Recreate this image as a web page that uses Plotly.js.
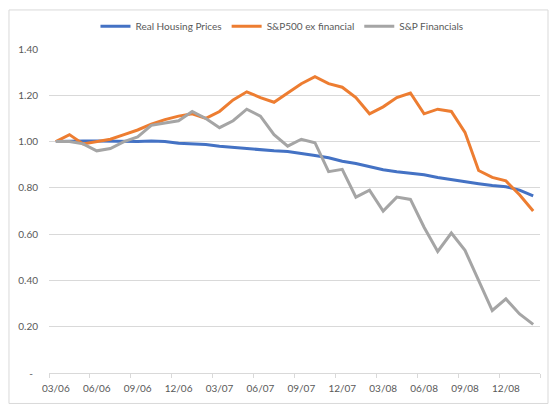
<!DOCTYPE html>
<html>
<head>
<meta charset="utf-8">
<script src="https://cdn.plot.ly/plotly-3.0.1.min.js"></script>
<style>html,body{margin:0;padding:0;background:#fff;}#chart{width:560px;height:410px;}</style>
</head>
<body>
<div id="chart"></div>
<script>
// Monthly observations, 03/06 .. 02/09
const months = ["03/06","04/06","05/06","06/06","07/06","08/06","09/06","10/06","11/06","12/06","01/07","02/07",
                "03/07","04/07","05/07","06/07","07/07","08/07","09/07","10/07","11/07","12/07","01/08","02/08",
                "03/08","04/08","05/08","06/08","07/08","08/08","09/08","10/08","11/08","12/08","01/09","02/09"];
const realHousing = [1.000,1.003,1.003,1.003,1.002,0.998,1.000,1.003,1.000,0.993,0.990,0.987,
                     0.980,0.975,0.967,0.963,0.960,0.957,0.950,0.940,0.930,0.915,0.905,0.893,
                     0.878,0.870,0.862,0.857,0.845,0.835,0.828,0.818,0.810,0.805,0.790,0.765];
const spExFin = [1.00,1.03,0.99,1.00,1.01,1.03,1.05,1.075,1.095,1.11,1.12,1.10,
                 1.13,1.18,1.215,1.19,1.17,1.21,1.25,1.28,1.25,1.235,1.19,1.12,
                 1.15,1.19,1.21,1.12,1.14,1.13,1.04,0.875,0.845,0.83,0.77,0.70];
const spFin = [1.00,1.00,0.99,0.96,0.97,1.00,1.02,1.07,1.08,1.09,1.13,1.10,
               1.06,1.09,1.14,1.11,1.03,0.98,1.01,0.995,0.87,0.88,0.76,0.79,
               0.70,0.76,0.75,0.63,0.525,0.605,0.53,0.40,0.27,0.32,0.255,0.21];
const yTickVals = [0,0.2,0.4,0.6,0.8,1.0,1.2,1.4];
const yTickText = ["-\u00a0\u00a0","0.20","0.40","0.60","0.80","1.00","1.20","1.40"];

const idx = months.map((m,i)=>i);
const labelIdx = idx.filter(i=>i%3===0);
const labelText = labelIdx.map(i=>months[i]);
const boundaryIdx = labelIdx.map(i=>i-0.5).concat([months.length-0.5]);

const font = "Lato, 'Open Sans', sans-serif";
const traces = [
  {x: idx, y: realHousing, name: "Real Housing Prices", type: "scatter", mode: "lines",
   line: {color: "#4472C4", width: 3}},
  {x: idx, y: spExFin, name: "S&P500 ex financial", type: "scatter", mode: "lines",
   line: {color: "#ED7D31", width: 3}},
  {x: idx, y: spFin, name: "S&P Financials", type: "scatter", mode: "lines",
   line: {color: "#A5A5A5", width: 3}}
];

const layout = {
  width: 560, height: 410,
  margin: {l: 49, r: 20, t: 46, b: 37},
  paper_bgcolor: "#fff", plot_bgcolor: "#fff",
  font: {family: font, size: 10, color: "#595959"},
  showlegend: true,
  legend: {orientation: "h", x: 0.4745, xanchor: "center", y: 1.07, yanchor: "middle",
           font: {family: font, size: 10, color: "#595959"}, itemwidth: 30, tracegroupgap: 0},
  xaxis: {
    range: [-0.5, months.length-0.5], tickmode: "array", tickvals: labelIdx, ticktext: labelText,
    ticks: "", showgrid: false, zeroline: false, showline: true, linecolor: "#d9d9d9", linewidth: 1,
    tickfont: {family: font, size: 10, color: "#595959"}, ticklabelstandoff: 6,
    minor: {tickmode: "array", tickvals: boundaryIdx, ticks: "outside", ticklen: 4, tickcolor: "#d9d9d9", showgrid: false},
    fixedrange: true
  },
  yaxis: {
    range: [0, 1.4], tickmode: "array", tickvals: yTickVals, ticktext: yTickText,
    showgrid: true, gridcolor: "#d9d9d9", gridwidth: 1, zeroline: false, showline: false, ticks: "",
    tickfont: {family: font, size: 10, color: "#595959"}, ticklabelstandoff: 10,
    fixedrange: true
  },
  shapes: [{type: "rect", xref: "paper", yref: "paper",
            x0: -0.0815, x1: 1.0163, y0: -0.094, y1: 1.1205,
            line: {color: "#d9d9d9", width: 1}, fillcolor: "rgba(0,0,0,0)", layer: "below"}]
};

Plotly.newPlot("chart", traces, layout, {displayModeBar: false, staticPlot: true});
</script>
</body>
</html>
